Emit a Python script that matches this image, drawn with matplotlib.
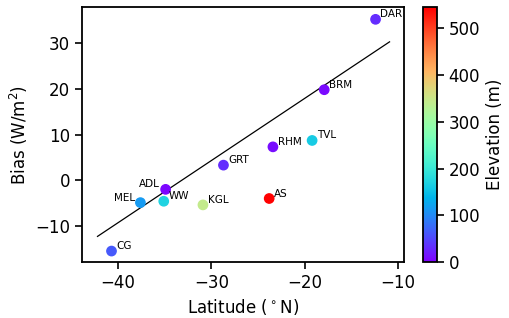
import numpy as np
import matplotlib
matplotlib.use('Agg')
import matplotlib.pyplot as plt

# stations
sites = ['DAR', 'BRM', 'TVL', 'RHM', 'AS', 'GRT', 'ADL', 'WW', 'MEL', 'KGL', 'CG']
lat = [-12.4, -17.9, -19.2, -23.4, -23.8, -28.7, -34.9, -35.1, -37.6, -30.9, -40.7]
bias = [35.2, 19.8, 8.7, 7.3, -4.0, 3.3, -2.0, -4.6, -4.9, -5.4, -15.5]
elev = [30, 7, 160, 10, 546, 30, 5, 170, 115, 345, 63]

# trend line
trend_slope = 1.36
trend_intercept = 45.1

left_labels = ['ADL', 'MEL']

fig = plt.figure(figsize=(5.1, 3.18), dpi=100)
ax = fig.add_axes([0.161, 0.176, 0.631, 0.802])
cax = fig.add_axes([0.829, 0.176, 0.0275, 0.802])

sc = ax.scatter(lat, bias, c=elev, cmap='rainbow', vmin=0, vmax=max(elev), s=45, zorder=3)

xl = np.array([min(lat) - 1.5, max(lat) + 1.5])
ax.plot(xl, trend_slope * xl + trend_intercept, color='black', lw=0.9, zorder=2)

for name, x, y in zip(sites, lat, bias):
    if name in left_labels:
        ax.annotate(name, (x, y), xytext=(-4, 0), textcoords='offset points',
                    ha='right', va='bottom', fontsize=7.5)
    else:
        ax.annotate(name, (x, y), xytext=(3.5, 0), textcoords='offset points',
                    ha='left', va='bottom', fontsize=7.5)

ax.set_xlim(-43.85, -9.36)
ax.set_ylim(-17.9, 37.9)
ax.set_xticks([-40, -30, -20, -10])
ax.set_yticks([-10, 0, 10, 20, 30])
ax.set_xlabel('Latitude ($^\\circ$N)', fontsize=12)
ax.set_ylabel('Bias (W/m$^2$)', fontsize=12)
ax.tick_params(labelsize=12, width=1.2, length=5)
for sp in ax.spines.values():
    sp.set_linewidth(1.3)

cb = fig.colorbar(sc, cax=cax)
cb.set_label('Elevation (m)', fontsize=12)
cb.ax.tick_params(labelsize=12, width=1.2, length=5)
cb.set_ticks([0, 100, 200, 300, 400, 500])
cb.outline.set_linewidth(1.3)

fig.savefig('out.png', dpi=100)
